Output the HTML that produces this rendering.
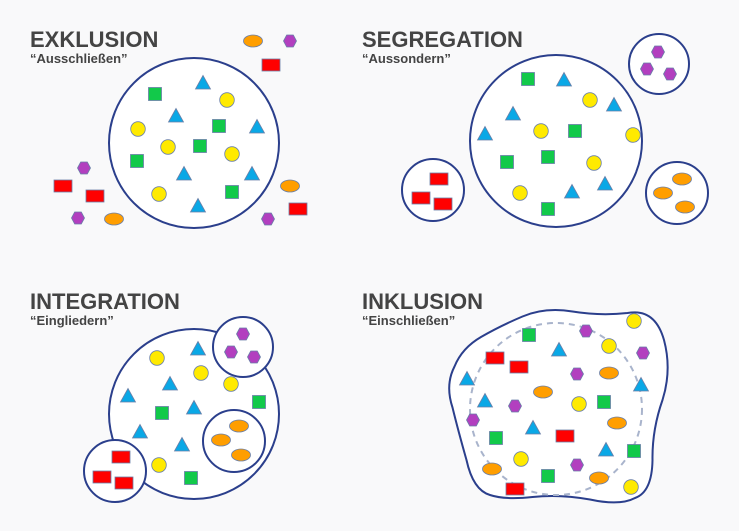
<!DOCTYPE html>
<html><head><meta charset="utf-8"><style>
html,body{margin:0;padding:0;background:#f9f9fa;}
svg{display:block}
.t{font-family:"Liberation Sans",sans-serif;font-weight:bold;fill:#444;}
</style></head><body>
<svg width="739" height="531" viewBox="0 0 739 531" xmlns="http://www.w3.org/2000/svg">
<defs>
<g id="sq"><rect x="-6.5" y="-6.5" width="13" height="13" fill="#12c94a" stroke="#6a7fa8" stroke-width="0.8"/></g>
<g id="ci"><circle r="7.3" fill="#ffea00" stroke="#6a7fa8" stroke-width="0.8"/></g>
<g id="tr"><polygon points="0,-7.5 7.5,6 -7.5,6" fill="#0aa8e6" stroke="#6a7fa8" stroke-width="0.8"/></g>
<g id="rd"><rect x="-9" y="-6" width="18" height="12" fill="#ff0000" stroke="#6a7fa8" stroke-width="0.8"/></g>
<g id="or"><ellipse rx="9.5" ry="6" fill="#ff9e00" stroke="#6a7fa8" stroke-width="0.8"/></g>
<g id="hx"><polygon points="-6.5,0 -3.3,-6 3.3,-6 6.5,0 3.3,6 -3.3,6" fill="#b23fbf" stroke="#6a7fa8" stroke-width="0.8"/></g>
</defs>
<g stroke="#2b3f8c" stroke-width="2" fill="#fff">
<circle cx="194" cy="143" r="85"/>
<circle cx="556" cy="141" r="86"/>
<circle cx="433" cy="190" r="31"/>
<circle cx="659" cy="64" r="30"/>
<circle cx="677" cy="193" r="31"/>
<circle cx="194" cy="414" r="85"/>
<circle cx="243" cy="347" r="30"/>
<circle cx="234" cy="441" r="31"/>
<circle cx="115" cy="471" r="31"/>
<path d="M 454.5,366.5 Q 462,348 481,337 Q 500,326 522.5,316.5 Q 545,307 572.5,311.5 Q 600,316 627.5,313 Q 655,308 664,340 Q 672,370 662.5,400 Q 652,430 652.5,460 Q 652,492 635,498 Q 620,506 590,499.5 Q 560,494 532.5,497 Q 505,500 490,495 Q 473,490 466.5,460 Q 458,430 452.5,407.5 Q 445,385 454.5,366.5 Z"/>
</g>
<circle cx="556" cy="409" r="86" fill="none" stroke="#a9b4cc" stroke-width="2" stroke-dasharray="6,5"/>
<text class="t" x="30" y="47" font-size="22">EXKLUSION</text>
<text class="t" x="30" y="63" font-size="13">“Ausschließen”</text>
<text class="t" x="362" y="47" font-size="22">SEGREGATION</text>
<text class="t" x="362" y="63" font-size="13">“Aussondern”</text>
<text class="t" x="30" y="309" font-size="22">INTEGRATION</text>
<text class="t" x="30" y="325" font-size="13">“Eingliedern”</text>
<text class="t" x="362" y="309" font-size="22">INKLUSION</text>
<text class="t" x="362" y="325" font-size="13">“Einschließen”</text>
<!-- Exklusion -->
<use href="#sq" x="155" y="94"/><use href="#sq" x="219" y="126"/><use href="#sq" x="200" y="146"/><use href="#sq" x="137" y="161"/><use href="#sq" x="232" y="192"/>
<use href="#ci" x="227" y="100"/><use href="#ci" x="138" y="129"/><use href="#ci" x="168" y="147"/><use href="#ci" x="232" y="154"/><use href="#ci" x="159" y="194"/>
<use href="#tr" x="203" y="83"/><use href="#tr" x="176" y="116"/><use href="#tr" x="257" y="127"/><use href="#tr" x="184" y="174"/><use href="#tr" x="252" y="174"/><use href="#tr" x="198" y="206"/>
<use href="#or" x="253" y="41"/><use href="#or" x="290" y="186"/><use href="#or" x="114" y="219"/>
<use href="#hx" x="290" y="41"/><use href="#hx" x="84" y="168"/><use href="#hx" x="78" y="218"/><use href="#hx" x="268" y="219"/>
<use href="#rd" x="271" y="65"/><use href="#rd" x="63" y="186"/><use href="#rd" x="95" y="196"/><use href="#rd" x="298" y="209"/>
<!-- Segregation -->
<use href="#sq" x="528" y="79"/><use href="#sq" x="575" y="131"/><use href="#sq" x="548" y="157"/><use href="#sq" x="507" y="162"/><use href="#sq" x="548" y="209"/>
<use href="#ci" x="590" y="100"/><use href="#ci" x="541" y="131"/><use href="#ci" x="633" y="135"/><use href="#ci" x="594" y="163"/><use href="#ci" x="520" y="193"/>
<use href="#tr" x="564" y="80"/><use href="#tr" x="614" y="105"/><use href="#tr" x="513" y="114"/><use href="#tr" x="485" y="134"/><use href="#tr" x="605" y="184"/><use href="#tr" x="572" y="192"/>
<use href="#rd" x="439" y="179"/><use href="#rd" x="421" y="198"/><use href="#rd" x="443" y="204"/>
<use href="#hx" x="658" y="52"/><use href="#hx" x="647" y="69"/><use href="#hx" x="670" y="74"/>
<use href="#or" x="682" y="179"/><use href="#or" x="663" y="193"/><use href="#or" x="685" y="207"/>
<!-- Integration -->
<use href="#ci" x="157" y="358"/><use href="#ci" x="201" y="373"/><use href="#ci" x="231" y="384"/><use href="#ci" x="159" y="465"/>
<use href="#tr" x="198" y="349"/><use href="#tr" x="170" y="384"/><use href="#tr" x="128" y="396"/><use href="#tr" x="194" y="408"/><use href="#tr" x="140" y="432"/><use href="#tr" x="182" y="445"/>
<use href="#sq" x="259" y="402"/><use href="#sq" x="162" y="413"/><use href="#sq" x="191" y="478"/>
<use href="#hx" x="243" y="334"/><use href="#hx" x="231" y="352"/><use href="#hx" x="254" y="357"/>
<use href="#or" x="239" y="426"/><use href="#or" x="221" y="440"/><use href="#or" x="241" y="455"/>
<use href="#rd" x="121" y="457"/><use href="#rd" x="102" y="477"/><use href="#rd" x="124" y="483"/>
<!-- Inklusion -->
<use href="#sq" x="529" y="335"/><use href="#sq" x="604" y="402"/><use href="#sq" x="496" y="438"/><use href="#sq" x="548" y="476"/><use href="#sq" x="634" y="451"/>
<use href="#ci" x="634" y="321"/><use href="#ci" x="609" y="346"/><use href="#ci" x="579" y="404"/><use href="#ci" x="521" y="459"/><use href="#ci" x="631" y="487"/>
<use href="#hx" x="586" y="331"/><use href="#hx" x="643" y="353"/><use href="#hx" x="577" y="374"/><use href="#hx" x="515" y="406"/><use href="#hx" x="473" y="420"/><use href="#hx" x="577" y="465"/>
<use href="#tr" x="559" y="350"/><use href="#tr" x="467" y="379"/><use href="#tr" x="641" y="385"/><use href="#tr" x="485" y="401"/><use href="#tr" x="533" y="428"/><use href="#tr" x="606" y="450"/>
<use href="#rd" x="495" y="358"/><use href="#rd" x="519" y="367"/><use href="#rd" x="565" y="436"/><use href="#rd" x="515" y="489"/>
<use href="#or" x="609" y="373"/><use href="#or" x="543" y="392"/><use href="#or" x="617" y="423"/><use href="#or" x="492" y="469"/><use href="#or" x="599" y="478"/>
</svg>
</body></html>
